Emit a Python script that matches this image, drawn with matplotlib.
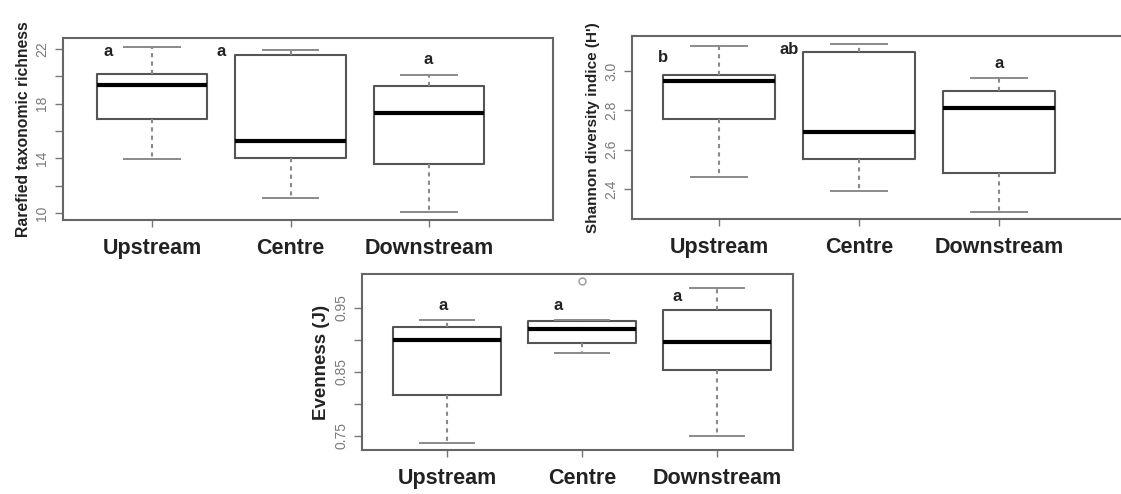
import matplotlib
matplotlib.use("Agg")
import matplotlib.pyplot as plt

sites = ["Upstream", "Centre", "Downstream"]

# five-number summaries per site: lower whisker, Q1, median, Q3, upper whisker
rich_lo = [13.95, 11.1, 10.05]
rich_q1 = [16.9, 14.05, 13.6]
rich_med = [19.35, 15.3, 17.3]
rich_q3 = [20.2, 21.6, 19.3]
rich_hi = [22.15, 21.9, 20.1]
rich_letters = ["a", "a", "a"]
rich_letter_x = [0.68, 1.5, 2.99]
rich_letter_y = [21.8, 21.8, 21.25]

shan_lo = [2.46, 2.39, 2.28]
shan_q1 = [2.757, 2.55, 2.48]
shan_med = [2.949, 2.69, 2.815]
shan_q3 = [2.98, 3.10, 2.90]
shan_hi = [3.128, 3.14, 2.965]
shan_letters = ["b", "ab", "a"]
shan_letter_x = [0.6, 1.5, 3.0]
shan_letter_y = [3.07, 3.11, 3.04]

even_lo = [0.739, 0.880, 0.749]
even_q1 = [0.814, 0.895, 0.853]
even_med = [0.900, 0.916, 0.897]
even_q3 = [0.920, 0.930, 0.946]
even_hi = [0.931, 0.931, 0.981]
even_out = [[], [0.992], []]
even_letters = ["a", "a", "a"]
even_letter_x = [0.97, 1.82, 2.7]
even_letter_y = [0.954, 0.954, 0.967]

W, H = 1121, 494
fig = plt.figure(figsize=(W / 100, H / 100), dpi=100)
plt.rcParams['font.family'] = ['Liberation Sans', 'DejaVu Sans']


def stats(lo, q1, med, q3, hi, out=None):
    res = []
    for i in range(len(lo)):
        res.append(dict(whislo=lo[i], q1=q1[i], med=med[i], q3=q3[i],
                        whishi=hi[i], fliers=out[i] if out else []))
    return res


def panel(px, xlim, ylim, st, yticks, ylabels, ylab, ylab_size, letters, lx, ly):
    x0, y0, x1, y1 = px
    ax = fig.add_axes([x0 / W, (H - y1) / H, (x1 - x0) / W, (y1 - y0) / H])
    ax.bxp(st, positions=[1, 2, 3], widths=0.8, capwidths=0.4,
           boxprops=dict(color="#555555", lw=1.5),
           medianprops=dict(color="black", lw=3),
           whiskerprops=dict(color="#8a8a8a", lw=1.5, linestyle=(0, (2, 2))),
           capprops=dict(color="#8a8a8a", lw=1.4),
           flierprops=dict(marker="o", markerfacecolor="none",
                           markeredgecolor="#999999", markersize=5))
    ax.set_xlim(*xlim)
    ax.set_ylim(*ylim)
    ax.set_xticks([1, 2, 3])
    ax.set_xticklabels(sites, fontsize=15.5, fontweight="bold", color="#222222")
    ax.tick_params(axis="x", length=5, width=1, color="#777777", pad=8)
    ax.set_yticks(yticks)
    ax.set_yticklabels(ylabels, rotation=90, va="center", fontsize=10,
                       color="#7a7a7a")
    ax.tick_params(axis="y", length=6, width=1, color="#777777", pad=4)
    for s in ax.spines.values():
        s.set_color("#666666")
        s.set_linewidth(1.5)
    ax.set_ylabel(ylab, fontsize=ylab_size, fontweight="bold", color="#222222",
                  labelpad=3)
    for t, x, y in zip(letters, lx, ly):
        ax.text(x, y, t, ha="center", va="center", fontsize=12,
                fontweight="bold", color="#222222")
    return ax


panel((63, 38, 553, 220), (0.357, 3.895), (9.49, 22.81),
      stats(rich_lo, rich_q1, rich_med, rich_q3, rich_hi),
      [10, 12, 14, 16, 18, 20, 22], ["10", "", "14", "", "18", "", "22"],
      "Rarefied taxonomic richness", 11.3, rich_letters, rich_letter_x, rich_letter_y)

panel((632, 36, 1135, 219), (0.379, 3.97), (2.246, 3.18),
      stats(shan_lo, shan_q1, shan_med, shan_q3, shan_hi),
      [2.4, 2.6, 2.8, 3.0], ["2.4", "2.6", "2.8", "3.0"],
      "Shannon diversity indice (H')", 11, shan_letters, shan_letter_x, shan_letter_y)

panel((362, 274, 793, 450), (0.37, 3.56), (0.7277, 1.0027),
      stats(even_lo, even_q1, even_med, even_q3, even_hi, even_out),
      [0.75, 0.80, 0.85, 0.90, 0.95], ["0.75", "", "0.85", "", "0.95"],
      "Evenness (J)", 13.5, even_letters, even_letter_x, even_letter_y)

fig.savefig("out.png", dpi=100)
